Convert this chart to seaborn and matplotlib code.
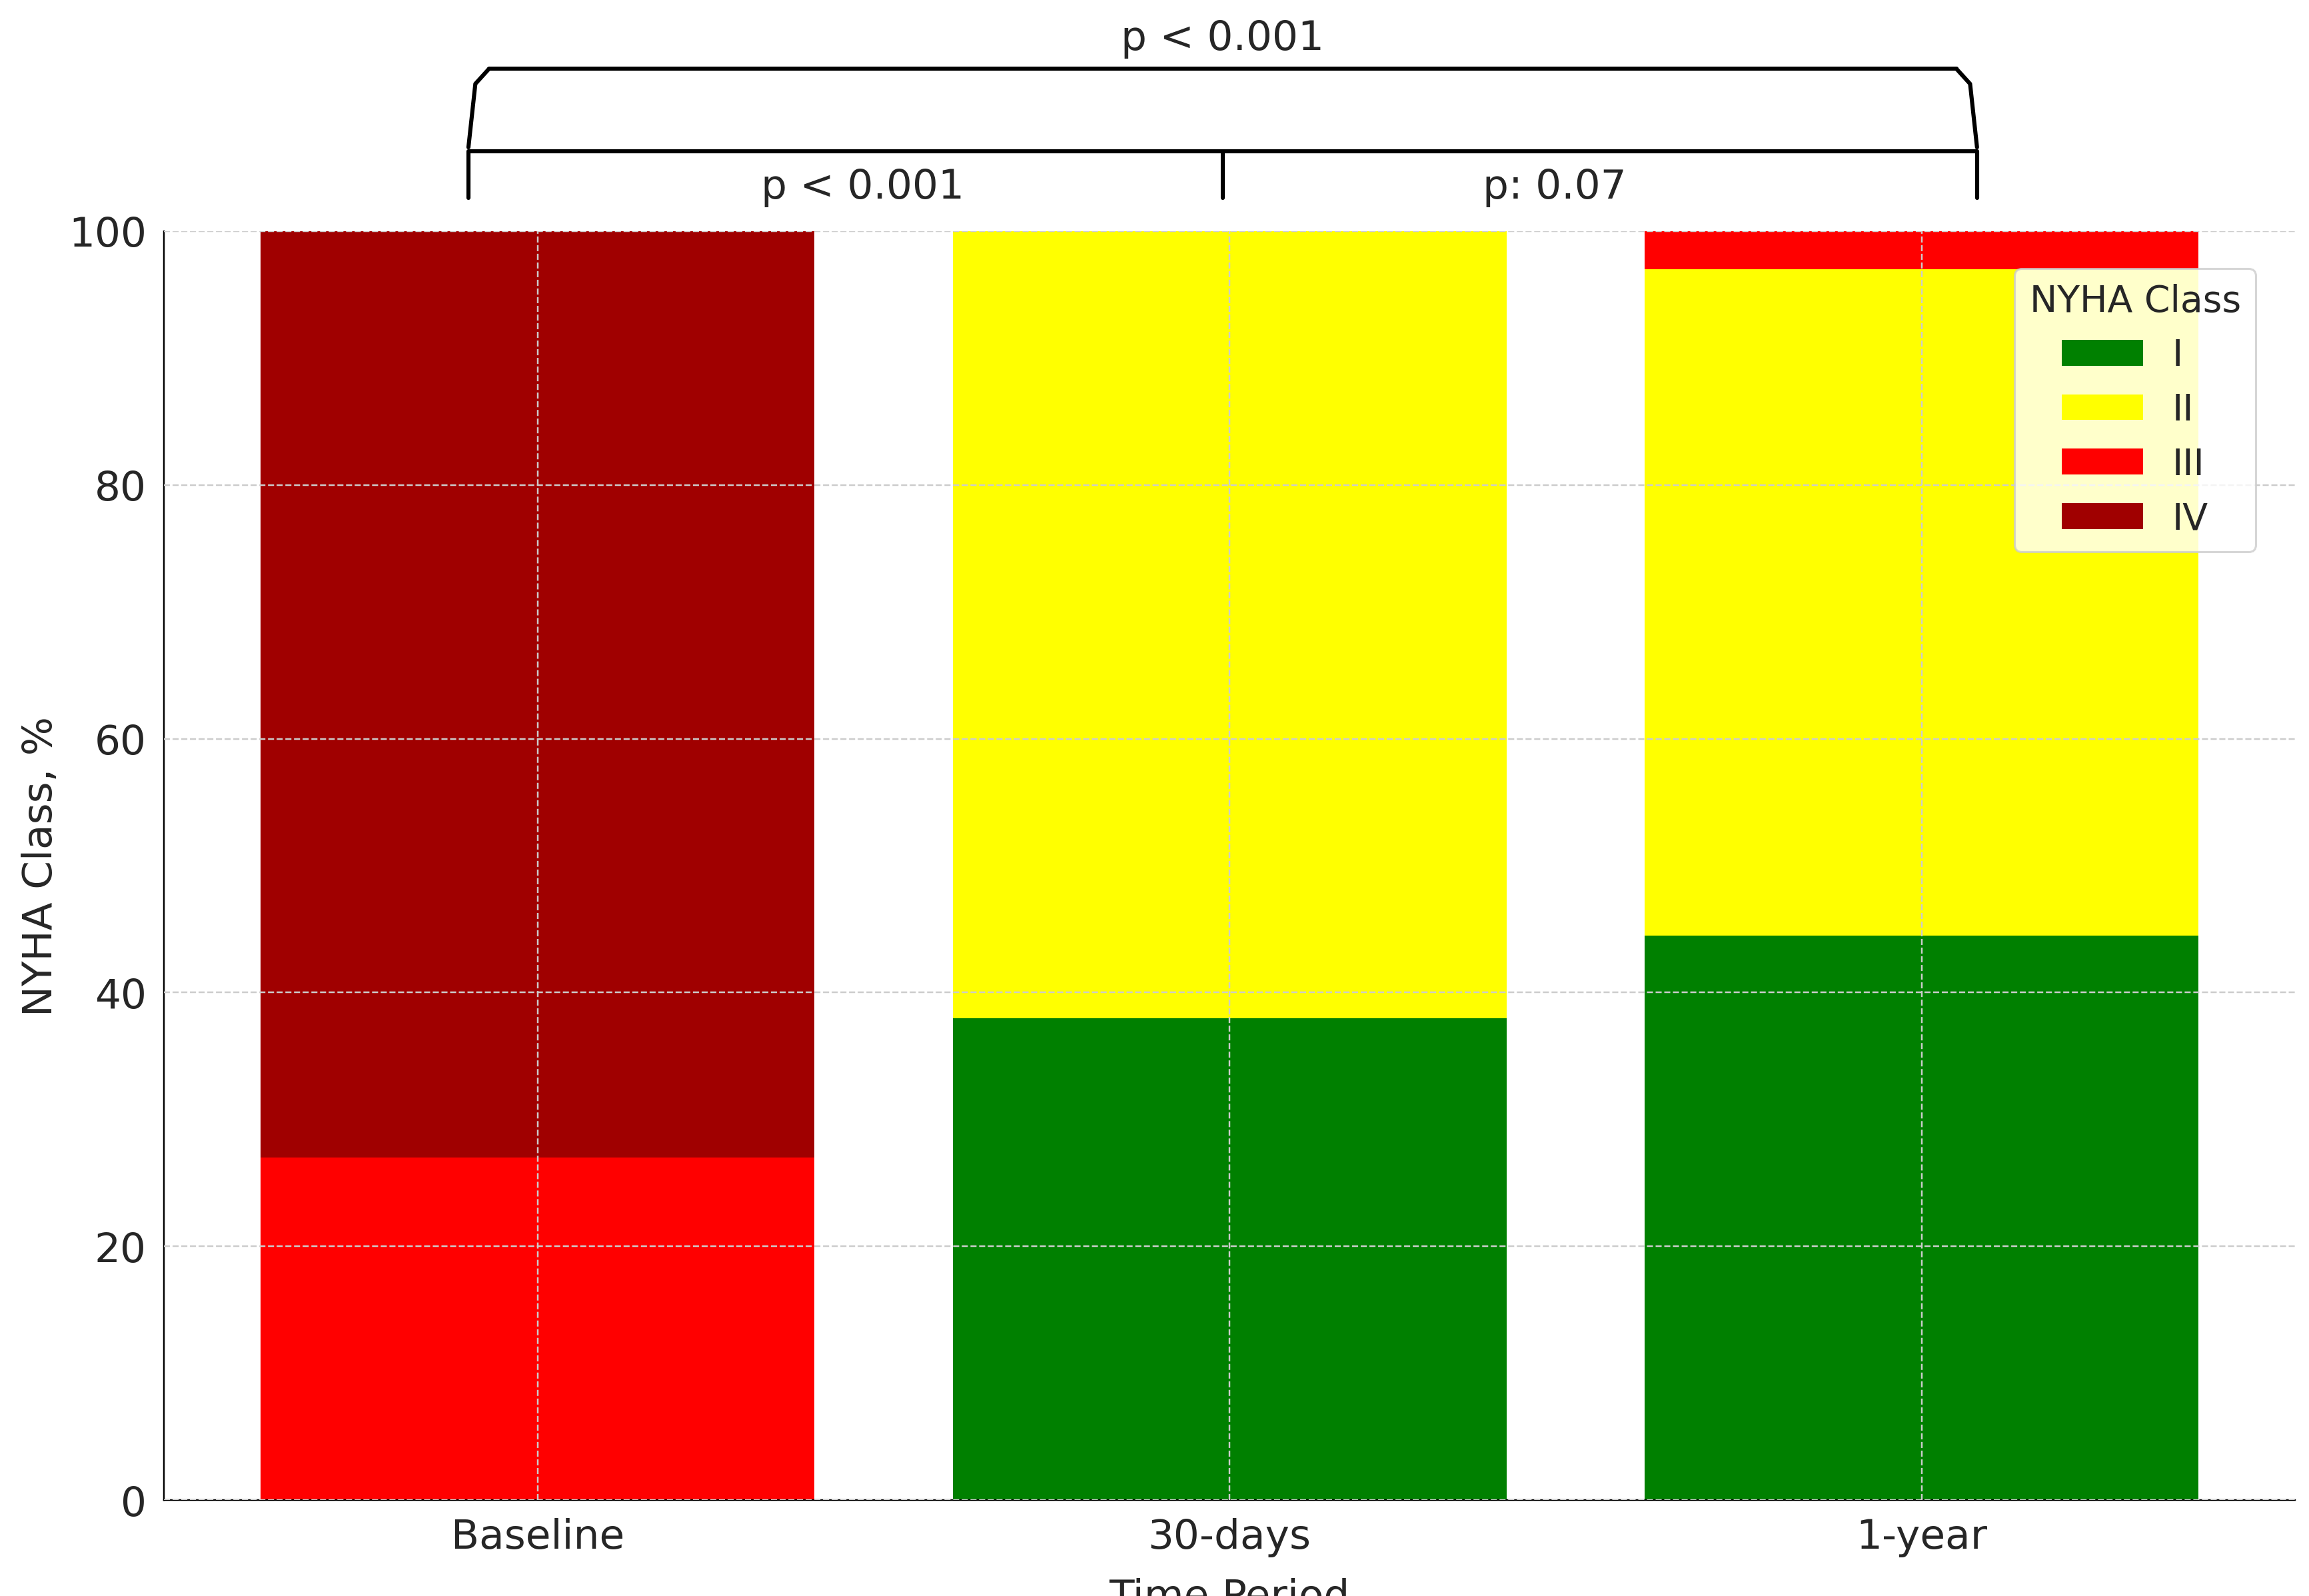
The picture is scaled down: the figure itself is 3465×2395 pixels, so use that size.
import matplotlib.pyplot as plt
import seaborn as sns
import pandas as pd
import numpy as np

# data
periods = ['Baseline', '30-days', '1-year']
classes = ['I', 'II', 'III', 'IV']
class_I = [0, 38, 44.5]
class_II = [0, 62, 52.5]
class_III = [27, 0, 3]
class_IV = [73, 0, 0]
colors = ['green', 'yellow', 'red', '#a00000']

sns.set_style('white')
plt.rcParams['font.family'] = ['DejaVu Sans']

fig = plt.figure(figsize=(15.68, 10.84), dpi=221)
ax = fig.add_axes([0.071, 0.06, 0.923, 0.795])

bottom = np.zeros(3)
for cls, vals, col in zip(classes, [class_I, class_II, class_III, class_IV], colors):
    df = pd.DataFrame({'period': periods, 'pct': vals})
    sns.barplot(data=df, x='period', y='pct', color=col, width=0.8,
                bottom=bottom, ax=ax, label=cls, saturation=1, zorder=2,
                linewidth=0)
    bottom = bottom + np.array(vals)

ax.set_xlim(-0.54, 2.54)
ax.set_ylim(0, 100)
ax.set_yticks([0, 20, 40, 60, 80, 100])
ax.grid(True, linestyle='--', color='#cccccc', linewidth=0.8, zorder=3)
ax.set_axisbelow(False)
for s in ['top', 'right']:
    ax.spines[s].set_visible(False)
ax.spines['left'].set_color('black')
ax.spines['bottom'].set_color('black')
ax.tick_params(axis='both', labelsize=20, length=5)
ax.set_ylabel('NYHA Class, %', fontsize=20)
ax.set_xlabel('Time Period', fontsize=20, labelpad=10)

leg = ax.legend(title='NYHA Class', loc='upper right', fontsize=18,
                title_fontsize=18, bbox_to_anchor=(0.99, 0.985),
                handlelength=2.2, frameon=True)

# significance brackets
kw = dict(color='black', lw=2, clip_on=False)
ax.plot([-0.1, -0.1, 2.08, 2.08], [102.6, 106.3, 106.3, 102.6], **kw)
ax.plot([0.99, 0.99], [102.6, 106.3], **kw)
ax.plot([-0.1, -0.09, -0.07], [106.6, 111.6, 112.8], **kw)
ax.plot([-0.07, 2.05], [112.8, 112.8], **kw)
ax.plot([2.05, 2.07, 2.08], [112.8, 111.6, 106.6], **kw)
ax.text(0.47, 101.9, 'p < 0.001', ha='center', va='bottom', fontsize=20, clip_on=False)
ax.text(1.47, 101.9, 'p: 0.07', ha='center', va='bottom', fontsize=20, clip_on=False)
ax.text(0.99, 113.6, 'p < 0.001', ha='center', va='bottom', fontsize=20, clip_on=False)

fig.savefig('out.png', dpi=221, facecolor='white')
